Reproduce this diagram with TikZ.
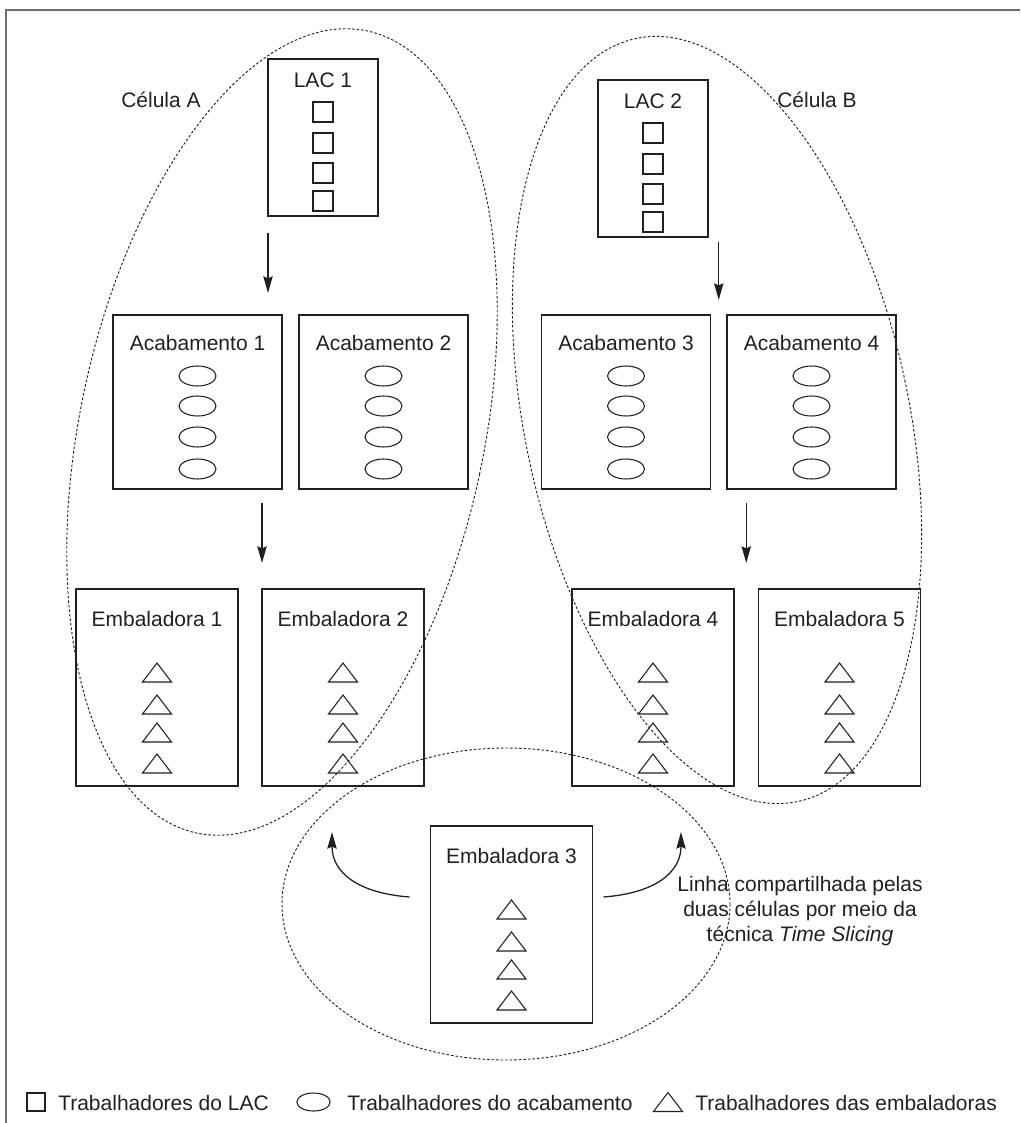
\documentclass[tikz,border=0pt]{standalone}
\usepackage{fontspec}
\setmainfont{Liberation Sans}
\usetikzlibrary{arrows.meta,calc,shapes.geometric}
\definecolor{ink}{HTML}{231F20}
\definecolor{framegray}{HTML}{6D6E71}

\begin{document}
\begin{tikzpicture}[x=0.75pt,y=-0.75pt,
  txt/.style={font=\fontsize{15.75}{18.75}\selectfont, text=ink, inner sep=0pt, anchor=base},
  box/.style={draw=ink, line width=0.9pt, inner sep=0pt, outer sep=0pt},
  lacbox/.style={box, minimum width=82.5pt, minimum height=117.75pt},
  acabbox/.style={box, minimum width=126.75pt, minimum height=130.5pt},
  embbox/.style={box, minimum width=121.5pt, minimum height=147.75pt},
  worker/.style={draw=ink, line width=0.8pt},
  flow/.style={draw=ink, line width=0.95pt, -{Stealth[length=12.5pt,width=7pt,inset=1.5pt]}},
  cellline/.style={draw=ink, line width=0.7pt, dash pattern=on 1.9pt off 1.5pt},
  frameline/.style={draw=framegray, line width=1.5pt},
  sqw/.pic={\draw[worker] (-10,-10) rectangle (10,10);},
  ovw/.pic={\draw[worker] (0,0) ellipse [x radius=18.5, y radius=10];},
  trw/.pic={\draw[worker, line join=miter] (0,-9.5) -- (14.5,9.5) -- (-14.5,9.5) -- cycle;},
]
\useasboundingbox (0,0) rectangle (1020,1123);

% frame on the top and left sides
\draw[frameline] (1020,10) -- (6,10) -- (6,1123);

% dotted outlines of the two cells and of the shared line
\draw[cellline, rotate around={-12:(282,432)}] (282,432) ellipse [x radius=202, y radius=410];
\draw[cellline, rotate around={12:(717,420)}] (717,420) ellipse [x radius=192, y radius=390];
\draw[cellline] (506,904) ellipse [x radius=224, y radius=156];

% LAC lines
\node[lacbox] (lac1) at (323,137.5) {};
\node[lacbox] (lac2) at (653,158.5) {};
\node[txt] (t-lac1) at ($(lac1.north)+(0,29)$) {LAC 1};
\node[txt] (t-lac2) at ($(lac2.north)+(0,29)$) {LAC 2};
\foreach \b in {lac1,lac2}
  \foreach \dy in {53,84,114,142}
    \pic at ($(\b.north)+(0,\dy)$) {sqw};

% finishing stations
\node[acabbox] (acab1) at (197.5,402) {};
\node[acabbox] (acab2) at (383.5,402) {};
\node[acabbox] (acab3) at (626,402) {};
\node[acabbox] (acab4) at (811.5,402) {};
\foreach \b/\n in {acab1/1,acab2/2,acab3/3,acab4/4}{
  \node[txt] (t-\b) at ($(\b.north)+(0,35.5)$) {Acabamento \n};
  \foreach \dy in {61,91,122,154}
    \pic at ($(\b.north)+(0,\dy)$) {ovw};
}

% packing lines
\node[embbox] (emb1) at (157,687.5) {};
\node[embbox] (emb2) at (343,687.5) {};
\node[embbox] (emb4) at (653,687.5) {};
\node[embbox] (emb5) at (839.5,687.5) {};
\node[embbox] (emb3) at (511.5,924.5) {};
\foreach \b/\n in {emb1/1,emb2/2,emb3/3,emb4/4,emb5/5}{
  \node[txt] (t-\b) at ($(\b.north)+(0,37.5)$) {Embaladora \n};
  \foreach \dy in {83.5,115.5,143.5,174.5}
    \pic at ($(\b.north)+(0,\dy)$) {trw};
}

% flow arrows
\draw[flow, shorten <=12.75pt, shorten >=16.5pt] (lac1.south west) -- (lac1.south west |- acab1.north);
\coordinate (gapB) at ($(acab3.north east)!0.5!(acab4.north west)$);
\draw[flow, shorten <=3.75pt, shorten >=11.25pt] (gapB |- lac2.south) -- (gapB);
\draw[flow, shorten <=10.5pt, shorten >=19.5pt] (emb2.north west |- acab1.south) -- (emb2.north west);
\coordinate (gapD) at ($(emb4.north east)!0.5!(emb5.north west)$);
\draw[flow, shorten <=10.5pt, shorten >=19.5pt] (gapD |- acab4.south) -- (gapD);

% shared line serving both cells
\coordinate (tailL) at ($(emb3.north west)+(-21,71)$);
\coordinate (tipL) at (332,832);
\draw[flow] (tailL) .. controls (357,893) and (332,872) .. (tipL);
\coordinate (tailR) at ($(emb3.north east)+(11,71)$);
\coordinate (tipR) at (681,832);
\draw[flow] (tailR) .. controls (656,893) and (681,872) .. (tipR);

% labels
\node[txt] (cellA) at (161,107.5) {Célula A};
\node[txt] (cellB) at (817,107.5) {Célula B};
\node[txt, anchor=center, align=center] (note) at (800,911)
  {Linha compartilhada pelas\\duas células por meio da\\técnica \textit{Time Slicing}};

% legend
\pic[scale=0.9] at (36,1102) {sqw};
\node[txt, anchor=base west] (lg1) at (58,1110) {Trabalhadores do LAC};
\pic[scale=0.9] at (313.5,1102) {ovw};
\node[txt, anchor=base west] (lg2) at (347,1110) {Trabalhadores do acabamento};
\pic at (668,1102) {trw};
\node[txt, anchor=base west] (lg3) at (695,1110) {Trabalhadores das embaladoras};
\end{tikzpicture}
\end{document}
